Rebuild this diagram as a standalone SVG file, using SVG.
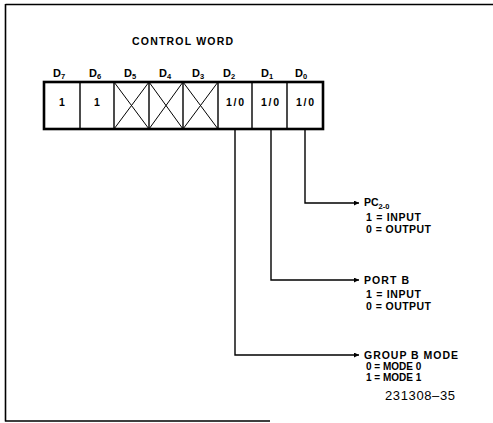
<svg xmlns="http://www.w3.org/2000/svg" width="493" height="423" viewBox="0 0 493 423">
<defs>
<style>
.frame{stroke:#000;stroke-width:1.6;fill:none}
.reg{stroke:#000;stroke-width:2.6;fill:#fff}
.div{stroke:#000;stroke-width:1.4;fill:none}
.x{stroke:#000;stroke-width:1;fill:none}
.conn{stroke:#000;stroke-width:1.4;fill:none}
.b{font-family:"Liberation Sans","Arial",sans-serif;font-weight:bold;font-size:10.5px;fill:#000}
.m{font-family:"Liberation Sans","Arial",sans-serif;font-weight:bold;font-size:10px;fill:#000}
.d{font-family:"Liberation Sans","Arial",sans-serif;font-weight:bold;font-size:11px;fill:#000}
.sub{font-size:7.5px}
.n{font-family:"Liberation Sans","Arial",sans-serif;font-size:13px;fill:#000}
</style>
<marker id="ah" viewBox="0 0 10 10" refX="10" refY="5" markerWidth="8" markerHeight="5" markerUnits="userSpaceOnUse" orient="auto">
<path d="M0,0 L10,5 L0,10 z" fill="#000"/>
</marker>
</defs>
<rect width="493" height="423" fill="#fff"/>
<g id="frame">
<path class="frame" d="M5.5,4.5 H493 M5.5,4 V421.5 M5,421 H270"/>
</g>
<g id="title">
<text class="b" x="132" y="45" textLength="101" lengthAdjust="spacing">CONTROL WORD</text>
</g>
<g id="bit-labels">
<text class="d" x="53" y="77">D<tspan class="sub" dy="2">7</tspan></text>
<text class="d" x="89" y="77">D<tspan class="sub" dy="2">6</tspan></text>
<text class="d" x="124" y="77">D<tspan class="sub" dy="2">5</tspan></text>
<text class="d" x="159" y="77">D<tspan class="sub" dy="2">4</tspan></text>
<text class="d" x="192" y="77">D<tspan class="sub" dy="2">3</tspan></text>
<text class="d" x="223" y="77">D<tspan class="sub" dy="2">2</tspan></text>
<text class="d" x="261" y="77">D<tspan class="sub" dy="2">1</tspan></text>
<text class="d" x="295" y="77">D<tspan class="sub" dy="2">0</tspan></text>
</g>
<g id="register">
<rect class="reg" x="44" y="82" width="279" height="47"/>
<path class="div" d="M80,82 V129 M114,82 V129 M149,82 V129 M183,82 V129 M218,82 V129 M252,82 V129 M287,82 V129"/>
<path class="x" d="M114,82 L149,129 M149,82 L114,129 M149,82 L183,129 M183,82 L149,129 M183,82 L218,129 M218,82 L183,129"/>
<text class="b" x="62" y="106" text-anchor="middle">1</text>
<text class="b" x="97" y="106" text-anchor="middle">1</text>
<text class="b" x="235" y="106" text-anchor="middle" textLength="18" lengthAdjust="spacing">1/0</text>
<text class="b" x="270" y="106" text-anchor="middle" textLength="18" lengthAdjust="spacing">1/0</text>
<text class="b" x="305" y="106" text-anchor="middle" textLength="18" lengthAdjust="spacing">1/0</text>
</g>
<g id="connectors">
<path class="conn" d="M305,130 V203 H359" marker-end="url(#ah)"/>
<path class="conn" d="M271,130 V280 H359" marker-end="url(#ah)"/>
<path class="conn" d="M235,130 V355 H359" marker-end="url(#ah)"/>
</g>
<g id="pc20">
<text class="b" x="364" y="206">PC<tspan class="sub" dy="2.5">2-0</tspan></text>
<text class="b" x="366" y="221" textLength="55" lengthAdjust="spacing">1 = INPUT</text>
<text class="b" x="366" y="233" textLength="65" lengthAdjust="spacing">0 = OUTPUT</text>
</g>
<g id="portb">
<text class="b" x="364" y="284" textLength="45" lengthAdjust="spacing">PORT B</text>
<text class="b" x="366" y="298" textLength="55" lengthAdjust="spacing">1 = INPUT</text>
<text class="b" x="366" y="310" textLength="65" lengthAdjust="spacing">0 = OUTPUT</text>
</g>
<g id="groupb">
<text class="b" x="364" y="359" textLength="94" lengthAdjust="spacing">GROUP B MODE</text>
<text class="m" x="366" y="370">0 = MODE 0</text>
<text class="m" x="366" y="381">1 = MODE 1</text>
</g>
<g id="figno">
<text class="n" x="385" y="400" textLength="70" lengthAdjust="spacing">231308–35</text>
</g>
</svg>
